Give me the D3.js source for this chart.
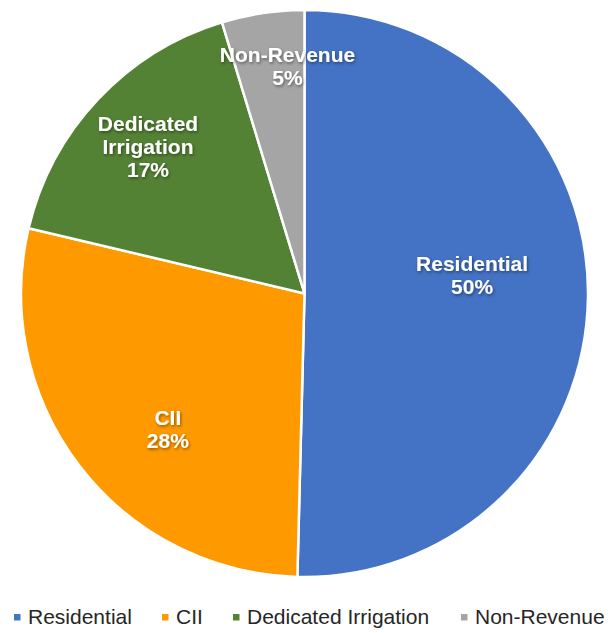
<!DOCTYPE html>
<html>
<head>
<meta charset="utf-8">
<script src="https://cdn.jsdelivr.net/npm/d3@7"></script>
<style>
  body { margin: 0; background: #fff; }
  svg text { font-family: "Liberation Sans", Arial, sans-serif; }
</style>
</head>
<body>
<div id="chart"></div>
<script>
// chart data
var categories = ["Residential", "CII", "Dedicated Irrigation", "Non-Revenue"];
var values = [50.4, 28.3, 16.6, 4.7];
var labelLines = [["Residential"], ["CII"], ["Dedicated", "Irrigation"], ["Non-Revenue"]];
var colors = ["#4472C4", "#FF9900", "#548235", "#A5A5A5"];

// where each slice label block sits, as a share of the radius from the centre
var labelAt = [[0.591, -0.065], [-0.482, 0.478], [-0.552, -0.517], [-0.060, -0.802]];

var svgWidth = 608;
var svgHeight = 633;
var cx = 304.5, cy = 293.5, radius = 283.5;

var svg = d3.select("#chart")
    .append("svg")
    .attr("width", svgWidth)
    .attr("height", svgHeight);

var defs = svg.append("defs");
var shadow = defs.append("filter")
    .attr("id", "shadow")
    .attr("x", "-20%").attr("y", "-20%")
    .attr("width", "140%").attr("height", "140%");
shadow.append("feDropShadow")
    .attr("dx", 1).attr("dy", 1.5)
    .attr("stdDeviation", 1.5)
    .attr("flood-color", "#000")
    .attr("flood-opacity", 0.45);

var pieGroup = svg.append("g")
    .attr("transform", `translate(${cx}, ${cy})`);

var pie = d3.pie().sort(null).value(d => d);
var arcs = pie(values);

var arc = d3.arc().innerRadius(0).outerRadius(radius);

pieGroup.selectAll("path")
    .data(arcs)
    .enter()
    .append("path")
    .attr("d", arc)
    .attr("fill", (d, i) => colors[i])
    .attr("stroke", "#fff")
    .attr("stroke-width", 2.5)
    .attr("stroke-linejoin", "round");

// slice labels
var fontSize = 21, lineH = 23;
var labels = pieGroup.selectAll("text.slice")
    .data(arcs)
    .enter()
    .append("text")
    .attr("class", "slice")
    .attr("filter", "url(#shadow)")
    .attr("text-anchor", "middle")
    .attr("fill", "#fff")
    .attr("font-size", fontSize + "px")
    .attr("font-weight", "bold")
    .attr("transform", (d, i) => `translate(${labelAt[i][0] * radius}, ${labelAt[i][1] * radius})`);

labels.each(function(d, i) {
    var lines = labelLines[i].concat([Math.round(d.value) + "%"]);
    var t = d3.select(this);
    // centre the block of cap-height lines on the anchor point
    var capH = fontSize * 0.716;
    var blockH = (lines.length - 1) * lineH + capH;
    var y0 = -blockH / 2 + capH;
    lines.forEach(function(line, k) {
        t.append("tspan")
            .attr("x", 0)
            .attr("y", y0 + k * lineH)
            .text(line);
    });
});

// legend
var legendX = [14, 162, 233, 461];
var legend = svg.append("g")
    .attr("transform", "translate(0, 624)");

var items = legend.selectAll("g")
    .data(categories)
    .enter()
    .append("g")
    .attr("transform", (d, i) => `translate(${legendX[i]}, 0)`);

items.append("rect")
    .attr("x", 0)
    .attr("y", -10)
    .attr("width", 6.5)
    .attr("height", 6.5)
    .attr("fill", (d, i) => colors[i]);

items.append("text")
    .attr("x", 14)
    .attr("y", 0)
    .attr("font-size", "21px")
    .attr("fill", "#262626")
    .text(d => d);
</script>
</body>
</html>
